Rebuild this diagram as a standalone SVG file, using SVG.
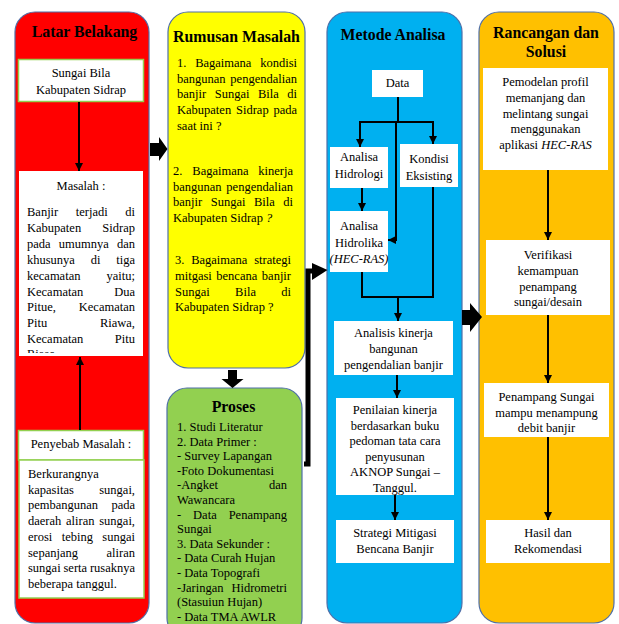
<svg xmlns="http://www.w3.org/2000/svg" width="619" height="624" viewBox="0 0 619 624">
<style>
text{font-family:'Liberation Serif','DejaVu Serif',serif}
.t{font-size:12.5px;fill:#000}
.c{text-anchor:middle}
.e{text-anchor:end}
.h{font-size:15.8px;font-weight:bold;fill:#000;text-anchor:middle}
.col{stroke:#4f6fa8;stroke-width:1.2}
.gb{fill:#fff;stroke:#92D050;stroke-width:1.5}
.wb{fill:#fff}
.ln{fill:none;stroke:#000;stroke-width:2}
.blk{fill:#000}
</style>
<defs>
<marker id="ah" viewBox="0 0 10 10" refX="10" refY="5" markerWidth="8" markerHeight="8" markerUnits="userSpaceOnUse" orient="auto">
<path d="M0,0 L10,5 L0,10 z" fill="#000"/>
</marker>
<clipPath id="mclip"><rect x="19" y="171" width="124" height="182"/></clipPath>
</defs>
<rect width="619" height="624" fill="#fff"/>
<g font-family="Liberation Serif, DejaVu Serif, serif">
<g id="latar-belakang">
<rect class="col" x="15" y="12" width="134" height="611" rx="20" fill="#FF0000"/>
<text class="h" x="84.5" y="37">Latar Belakang</text>
</g>
<g id="sungai-bila">
<rect class="gb" x="18.5" y="59.5" width="125" height="42"/>
<text class="t c" x="81" y="77">Sungai Bila</text>
<text class="t c" x="81" y="94">Kabupaten Sidrap</text>
</g>
<g id="masalah">
<rect class="wb" x="19" y="171" width="124" height="185"/>
<text class="t c" x="81" y="190">Masalah :</text>
<g clip-path="url(#mclip)">
<text class="t" x="27" y="216">Banjir</text><text class="t" x="75.8" y="216">terjadi</text><text class="t e" x="135" y="216">di</text>
<text class="t" x="27" y="231.9">Kabupaten</text><text class="t e" x="135" y="231.9">Sidrap</text>
<text class="t" x="27" y="247.8">pada</text><text class="t" x="58.8" y="247.8">umumnya</text><text class="t e" x="135" y="247.8">dan</text>
<text class="t" x="27" y="263.7">khusunya</text><text class="t" x="90.7" y="263.7">di</text><text class="t e" x="135" y="263.7">tiga</text>
<text class="t" x="27" y="279.6">kecamatan</text><text class="t e" x="135" y="279.6">yaitu;</text>
<text class="t" x="27" y="295.5">Kecamatan</text><text class="t e" x="135" y="295.5">Dua</text>
<text class="t" x="27" y="311.4">Pitue,</text><text class="t e" x="135" y="311.4">Kecamatan</text>
<text class="t" x="27" y="327.3">Pitu</text><text class="t e" x="135" y="327.3">Riawa,</text>
<text class="t" x="27" y="343.2">Kecamatan</text><text class="t e" x="135" y="343.2">Pitu</text>
<text class="t" x="27" y="358">Riase</text>
</g>
</g>
<g id="penyebab">
<rect class="gb" x="18.5" y="430.5" width="125" height="29.5"/>
<text class="t c" x="81" y="448">Penyebab Masalah :</text>
</g>
<g id="penyebab-isi">
<rect class="gb" x="19" y="460" width="125" height="138"/>
<text class="t" x="28" y="478">Berkurangnya</text>
<text class="t" x="28" y="493.7">kapasitas</text><text class="t e" x="135" y="493.7">sungai,</text>
<text class="t" x="28" y="509.4">pembangunan</text><text class="t e" x="135" y="509.4">pada</text>
<text class="t" x="28" y="525.1">daerah</text><text class="t" x="66" y="525.1">aliran</text><text class="t e" x="135" y="525.1">sungai,</text>
<text class="t" x="28" y="540.8">erosi</text><text class="t" x="61.7" y="540.8">tebing</text><text class="t e" x="135" y="540.8">sungai</text>
<text class="t" x="28" y="556.5">sepanjang</text><text class="t e" x="135" y="556.5">aliran</text>
<text class="t" x="28" y="572.2">sungai</text><text class="t" x="63.5" y="572.2">serta</text><text class="t e" x="135" y="572.2">rusaknya</text>
<text class="t" x="28" y="587.9">beberapa tanggul.</text>
</g>

<g id="rumusan-masalah">
<rect class="col" x="168" y="12" width="137" height="356" rx="20" fill="#FFFF00"/>
<text class="h" x="236.5" y="42">Rumusan Masalah</text>
<text class="t" x="177" y="67">1.</text><text class="t" x="195.2" y="67">Bagaimana</text><text class="t e" x="297" y="67">kondisi</text>
<text class="t" x="177" y="82.7">bangunan</text><text class="t e" x="297" y="82.7">pengendalian</text>
<text class="t" x="177" y="98.4">banjir</text><text class="t" x="214.7" y="98.4">Sungai</text><text class="t" x="257.9" y="98.4">Bila</text><text class="t e" x="297" y="98.4">di</text>
<text class="t" x="177" y="114.1">Kabupaten</text><text class="t" x="236" y="114.1">Sidrap</text><text class="t e" x="297" y="114.1">pada</text>
<text class="t" x="177" y="129.8">saat ini ?</text>
<text class="t" x="173" y="175">2.</text><text class="t" x="192.3" y="175">Bagaimana</text><text class="t e" x="293" y="175">kinerja</text>
<text class="t" x="173" y="190.5">bangunan</text><text class="t e" x="293" y="190.5">pengendalian</text>
<text class="t" x="173" y="206.3">banjir</text><text class="t" x="210.7" y="206.3">Sungai</text><text class="t" x="253.9" y="206.3">Bila</text><text class="t e" x="293" y="206.3">di</text>
<text class="t" x="173" y="222">Kabupaten Sidrap <tspan font-style="italic">?</tspan></text>
<text class="t" x="175" y="264">3.</text><text class="t" x="191.2" y="264">Bagaimana</text><text class="t e" x="291" y="264">strategi</text>
<text class="t" x="175" y="279.8">mitgasi</text><text class="t" x="216.3" y="279.8">bencana</text><text class="t e" x="291" y="279.8">banjir</text>
<text class="t" x="175" y="295.6">Sungai</text><text class="t" x="235.1" y="295.6">Bila</text><text class="t e" x="291" y="295.6">di</text>
<text class="t" x="175" y="311.4">Kabupaten Sidrap ?</text>
</g>

<g id="proses">
<rect class="col" x="167" y="388" width="135" height="250" rx="20" fill="#92D050"/>
<text class="h" x="233.5" y="412">Proses</text>
<text class="t" x="177" y="431">1. Studi Literatur</text>
<text class="t" x="177" y="445.6">2. Data Primer :</text>
<text class="t" x="177" y="460.2">- Survey Lapangan</text>
<text class="t" x="177" y="474.8">-Foto Dokumentasi</text>
<text class="t" x="177" y="489.4">-Angket</text><text class="t e" x="287" y="489.4">dan</text>
<text class="t" x="177" y="504">Wawancara</text>
<text class="t" x="177" y="518.6">-</text><text class="t" x="193.1" y="518.6">Data</text><text class="t e" x="287" y="518.6">Penampang</text>
<text class="t" x="177" y="533.2">Sungai</text>
<text class="t" x="177" y="547.8">3. Data Sekunder :</text>
<text class="t" x="177" y="562.4">- Data Curah Hujan</text>
<text class="t" x="177" y="577">- Data Topografi</text>
<text class="t" x="177" y="591.6">-Jaringan</text><text class="t e" x="287" y="591.6">Hidrometri</text>
<text class="t" x="177" y="606.2">(Stasuiun Hujan)</text>
<text class="t" x="177" y="620.8">- Data TMA AWLR</text>
</g>

<g id="metode-analisa">
<rect class="col" x="327" y="12" width="135" height="611" rx="20" fill="#00B0F0"/>
<text class="h" x="393" y="40">Metode Analisa</text>
</g>
<g id="data">
<rect class="wb" x="372" y="70" width="51" height="27"/>
<text class="t c" x="397.5" y="87">Data</text>
</g>
<g id="analisa-hidrologi">
<rect class="wb" x="330" y="147" width="58" height="41"/>
<text class="t c" x="359" y="161">Analisa</text>
<text class="t c" x="359" y="178">Hidrologi</text>
</g>
<g id="kondisi-eksisting">
<rect class="wb" x="400" y="144" width="58" height="43"/>
<text class="t c" x="429" y="163">Kondisi</text>
<text class="t c" x="429" y="180">Eksisting</text>
</g>
<g id="analisa-hidrolika">
<rect class="wb" x="330" y="211" width="58" height="61"/>
<text class="t c" x="359" y="230">Analisa</text>
<text class="t c" x="359" y="247">Hidrolika</text>
<text class="t c" x="359" y="263" font-style="italic">(HEC-RAS)</text>
</g>
<g id="analisis-kinerja">
<rect class="wb" x="334" y="321" width="119" height="54"/>
<text class="t c" x="393.5" y="337">Analisis kinerja</text>
<text class="t c" x="393.5" y="352.5">bangunan</text>
<text class="t c" x="393.5" y="369">pengendalian banjir</text>
</g>
<g id="penilaian-kinerja">
<rect class="wb" x="336" y="398" width="118" height="97"/>
<text class="t c" x="395" y="414">Penilaian kinerja</text>
<text class="t c" x="395" y="429.5">berdasarkan buku</text>
<text class="t c" x="395" y="445">pedoman tata cara</text>
<text class="t c" x="395" y="460.5">penyusunan</text>
<text class="t c" x="395" y="476">AKNOP Sungai –</text>
<text class="t c" x="395" y="491.5">Tanggul.</text>
</g>
<g id="strategi-mitigasi">
<rect class="wb" x="336" y="520" width="118" height="43"/>
<text class="t c" x="395" y="537">Strategi Mitigasi</text>
<text class="t c" x="395" y="552.5">Bencana Banjir</text>
</g>

<g id="rancangan-solusi">
<rect class="col" x="479" y="12" width="135" height="611" rx="20" fill="#FFC000"/>
<text class="h" x="546" y="38">Rancangan dan</text>
<text class="h" x="546" y="57">Solusi</text>
</g>
<g id="pemodelan">
<rect class="wb" x="483" y="68" width="125" height="102"/>
<text class="t c" x="545.5" y="86">Pemodelan profil</text>
<text class="t c" x="545.5" y="102">memanjang dan</text>
<text class="t c" x="545.5" y="117.5">melintang sungai</text>
<text class="t c" x="545.5" y="133">menggunakan</text>
<text class="t c" x="545.5" y="149">aplikasi <tspan font-style="italic">HEC-RAS</tspan></text>
</g>
<g id="verifikasi">
<rect class="wb" x="486" y="240" width="124" height="75"/>
<text class="t c" x="548" y="259">Verifikasi</text>
<text class="t c" x="548" y="275">kemampuan</text>
<text class="t c" x="548" y="290.5">penampang</text>
<text class="t c" x="548" y="306">sungai/desain</text>
</g>
<g id="penampang-sungai">
<rect class="wb" x="484" y="383" width="125" height="54"/>
<text class="t c" x="546.5" y="401">Penampang Sungai</text>
<text class="t c" x="546.5" y="416.5">mampu menampung</text>
<text class="t c" x="546.5" y="432">debit banjir</text>
</g>
<g id="hasil">
<rect class="wb" x="486" y="520" width="124" height="43"/>
<text class="t c" x="548" y="537">Hasil dan</text>
<text class="t c" x="548" y="553">Rekomendasi</text>
</g>
</g>
<g id="connectors">
<line class="ln" x1="79" y1="102" x2="79" y2="171" marker-end="url(#ah)"/>
<line class="ln" x1="80" y1="430" x2="80" y2="357" marker-end="url(#ah)"/>
<path class="blk" d="M150,143 L159,143 L159,137 L167.5,149 L159,161 L159,156 L150,156 Z"/>
<path class="blk" d="M228,370 L237,370 L237,379 L243.5,379 L232.5,388 L221.5,379 L228,379 Z"/>
<path d="M304,464 L308,464 L308,271 L314,271" fill="none" stroke="#000" stroke-width="5"/>
<path class="blk" d="M312,263 L327.5,270 L312,280 Z"/>
<path class="blk" d="M462,310 L470,310 L470,303 L482,317 L470,332 L470,325 L462,325 Z"/>
<line class="ln" x1="398" y1="97" x2="398" y2="122"/>
<line class="ln" x1="359" y1="122" x2="434" y2="122"/>
<line class="ln" x1="360" y1="122" x2="360" y2="147" marker-end="url(#ah)"/>
<line class="ln" x1="433" y1="122" x2="433" y2="144" marker-end="url(#ah)"/>
<polyline class="ln" points="396,122 396,240 388,240" marker-end="url(#ah)"/>
<line class="ln" x1="362" y1="188" x2="362" y2="211" marker-end="url(#ah)"/>
<polyline class="ln" points="362,272 362,297 433,297 433,187"/>
<line class="ln" x1="398" y1="297" x2="398" y2="321" marker-end="url(#ah)"/>
<line class="ln" x1="397" y1="375" x2="397" y2="398" marker-end="url(#ah)"/>
<line class="ln" x1="395" y1="495" x2="395" y2="520" marker-end="url(#ah)"/>
<line class="ln" x1="548" y1="170" x2="548" y2="240" marker-end="url(#ah)"/>
<line class="ln" x1="548" y1="315" x2="548" y2="383" marker-end="url(#ah)"/>
<line class="ln" x1="548" y1="437" x2="548" y2="520" marker-end="url(#ah)"/>
</g>
</svg>
